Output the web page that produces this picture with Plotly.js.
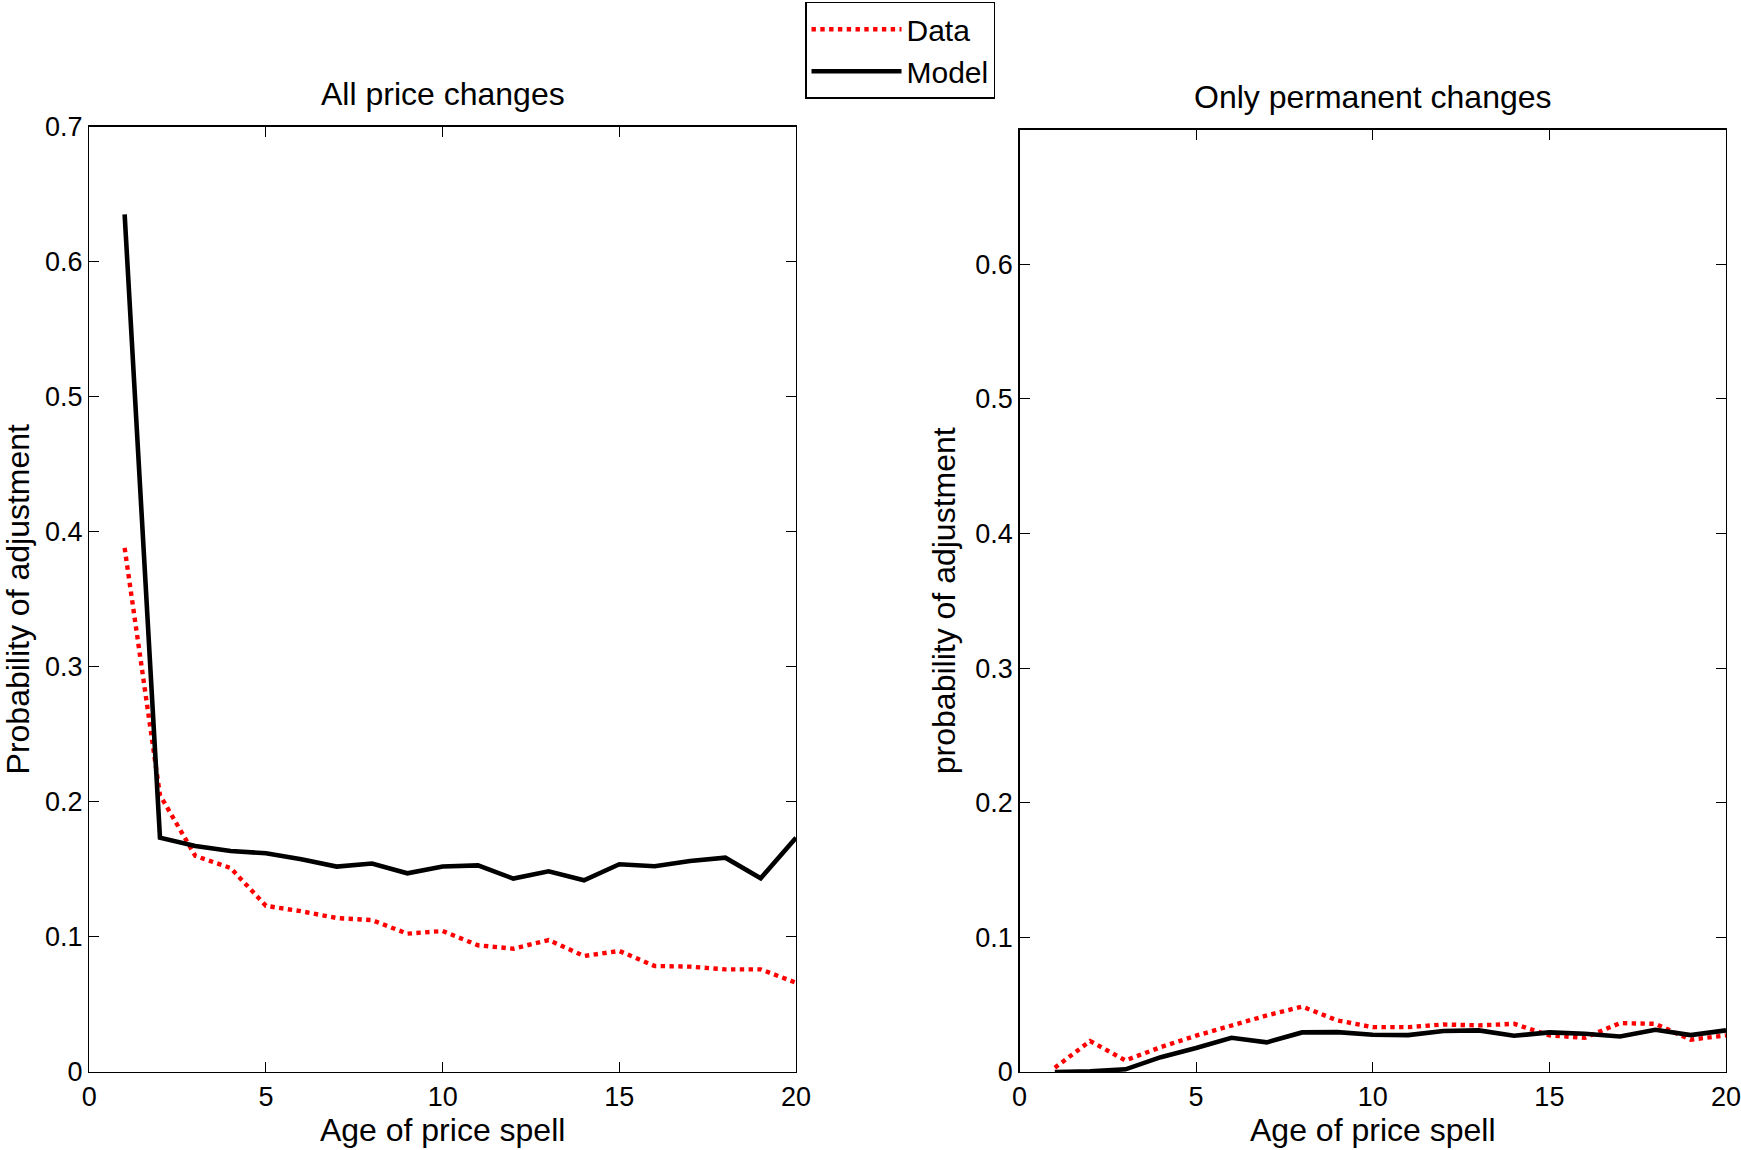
<!DOCTYPE html>
<html>
<head>
<meta charset="utf-8">
<script src="https://cdn.plot.ly/plotly-3.0.1.min.js"></script>
<style>html,body{margin:0;padding:0;background:#fff;}#chart{width:1741px;height:1150px;}</style>
</head>
<body>
<div id="chart"></div>
<script>
// Age of price spell (x values)
const ages = [1,2,3,4,5,6,7,8,9,10,11,12,13,14,15,16,17,18,19,20];

// Left panel: All price changes
const allData  = [0.388,0.205,0.160,0.151,0.123,0.119,0.114,0.1125,0.1024,0.1044,0.0938,0.0913,0.0977,0.0859,0.0896,0.0785,0.078,0.076,0.076,0.0661];
const allModel = [0.635,0.1735,0.1673,0.1636,0.1619,0.1575,0.1521,0.1543,0.1471,0.1521,0.1530,0.1432,0.1486,0.1419,0.1538,0.1523,0.1562,0.1587,0.1434,0.1735];

// Right panel: Only permanent changes
const permData  = [0.0032,0.023,0.0086,0.0185,0.027,0.0346,0.042,0.0486,0.0383,0.0333,0.0333,0.0353,0.0346,0.0358,0.0272,0.0254,0.0363,0.0358,0.024,0.0272];
const permModel = [0.0,0.0005,0.002,0.011,0.0178,0.0254,0.022,0.0294,0.0296,0.0277,0.0274,0.0304,0.0309,0.0269,0.0294,0.0284,0.0264,0.0314,0.0274,0.0309];

const xTicks = [0,5,10,15,20];
const yTicksLeft = [0,0.1,0.2,0.3,0.4,0.5,0.6,0.7];
const yTicksRight = [0,0.1,0.2,0.3,0.4,0.5,0.6];

const FONT = '"Liberation Sans", Arial, Helvetica, sans-serif';
const W = 1741, H = 1150;

const dataStyle = {color:'#ff0000', width:4.4, dash:'dot'};
const modelStyle = {color:'#000000', width:4.6};

const traces = [
  {x: ages, y: allData,  type:'scatter', mode:'lines', name:'Data',  line: dataStyle, xaxis:'x', yaxis:'y', legendgroup:'d'},
  {x: ages, y: allModel, type:'scatter', mode:'lines', name:'Model', line: modelStyle, xaxis:'x', yaxis:'y', legendgroup:'m'},
  {x: ages, y: permData,  type:'scatter', mode:'lines', name:'Data',  line: dataStyle, xaxis:'x2', yaxis:'y2', showlegend:false, legendgroup:'d'},
  {x: ages, y: permModel, type:'scatter', mode:'lines', name:'Model', line: modelStyle, xaxis:'x2', yaxis:'y2', showlegend:false, legendgroup:'m'}
];

function xax(domain, anchor){
  return {
    domain: domain, anchor: anchor, range:[0,20], tickvals: xTicks, ticktext: xTicks.map(String),
    ticks:'inside', ticklen:10, tickwidth:1, tickcolor:'#000', showline:true, linecolor:'#000', linewidth:1.3,
    mirror:'ticks', showgrid:false, zeroline:false, ticklabeloverflow:'allow',
    tickfont:{family:FONT, size:27, color:'#000'},
    title:{text:'Age of price spell', font:{family:FONT, size:32, color:'#000'}, standoff:6}
  };
}
function yax(domain, anchor, ticks, label, standoff){
  return {
    domain: domain, anchor: anchor, range:[0,0.7], tickvals: ticks, ticktext: ticks.map(v=>String(v)),
    ticks:'inside', ticklen:10, tickwidth:1, tickcolor:'#000', showline:true, linecolor:'#000', linewidth:1.3,
    mirror:'ticks', showgrid:false, zeroline:false, ticklabeloverflow:'allow',
    tickfont:{family:FONT, size:27, color:'#000'},
    title:{text:label, font:{family:FONT, size:32, color:'#000'}, standoff:standoff}
  };
}

const yBottom = (H-1072)/H;
const layout = {
  width: W, height: H,
  margin:{l:0,r:0,t:0,b:0,pad:0},
  paper_bgcolor:'#fff', plot_bgcolor:'#fff',
  font:{family:FONT, color:'#000'},
  xaxis: xax([89.3/W, 796/W], 'y'),
  yaxis: yax([yBottom, (H-126.5)/H], 'x', yTicksLeft, 'Probability of adjustment', 16),
  xaxis2: xax([1019.5/W, 1726/W], 'y2'),
  yaxis2: yax([yBottom, (H-129.5)/H], 'x2', yTicksRight, 'probability of adjustment', 10),
  showlegend:true,
  legend:{
    x: 805/W, y: 1 - 1.7/H, xanchor:'left', yanchor:'top',
    bgcolor:'#fff', bordercolor:'#000', borderwidth:1.5,
    font:{family:FONT, size:30, color:'#000'},
    tracegroupgap:0, itemwidth:90
  },
  annotations:[
    {text:'All price changes', xref:'paper', yref:'paper', x:(89.3+796)/2/W, y:(H-94)/H, xanchor:'center', yanchor:'middle', showarrow:false, font:{family:FONT, size:32, color:'#000'}},
    {text:'Only permanent changes', xref:'paper', yref:'paper', x:(1019.5+1726)/2/W, y:(H-96.6)/H, xanchor:'center', yanchor:'middle', showarrow:false, font:{family:FONT, size:32, color:'#000'}}
  ]
};

Plotly.newPlot('chart', traces, layout, {displayModeBar:false, staticPlot:true});
</script>
</body>
</html>
